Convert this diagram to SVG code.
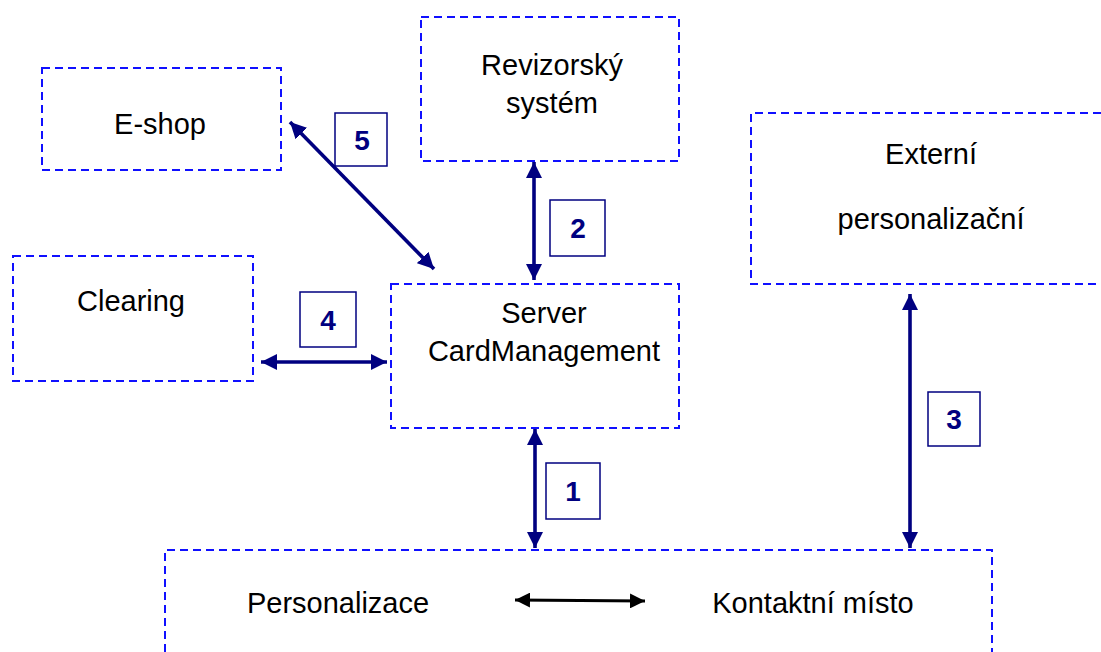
<svg xmlns="http://www.w3.org/2000/svg" width="1101" height="652" viewBox="0 0 1101 652">
  <style>
    .node { fill: none; stroke: #1010ff; stroke-width: 2; stroke-dasharray: 8 5; }
    .label { font-family: "Liberation Sans", Arial, sans-serif; font-size: 29px; fill: #000; text-anchor: middle; }
    .link { stroke: #000080; stroke-width: 3.6; fill: none; marker-start: url(#headStart); marker-end: url(#headEnd); }
    .tag rect { fill: #fff; stroke: #000080; stroke-width: 1.5; }
    .tag text { font-family: "Liberation Sans", Arial, sans-serif; font-size: 28px; font-weight: bold; fill: #000080; text-anchor: middle; }
  </style>
  <defs>
    <marker id="headEnd" viewBox="0 0 10 10" refX="10" refY="5" markerWidth="4.5" markerHeight="4.5" orient="auto" markerUnits="strokeWidth">
      <path d="M0,0 L10,5 L0,10 z" fill="#000080"/>
    </marker>
    <marker id="headStart" viewBox="0 0 10 10" refX="0" refY="5" markerWidth="4.5" markerHeight="4.5" orient="auto" markerUnits="strokeWidth">
      <path d="M10,0 L0,5 L10,10 z" fill="#000080"/>
    </marker>
    <marker id="blkEnd" viewBox="0 0 10 10" refX="10" refY="5" markerWidth="5" markerHeight="5" orient="auto" markerUnits="strokeWidth">
      <path d="M0,0 L10,5 L0,10 z" fill="#000"/>
    </marker>
    <marker id="blkStart" viewBox="0 0 10 10" refX="0" refY="5" markerWidth="5" markerHeight="5" orient="auto" markerUnits="strokeWidth">
      <path d="M10,0 L0,5 L10,10 z" fill="#000"/>
    </marker>
  </defs>

  <rect width="1101" height="652" fill="#fff"/>

  <g id="eshop">
    <rect class="node" x="42" y="68" width="239" height="102"/>
    <text class="label" x="160" y="134">E-shop</text>
  </g>

  <g id="revizorsky-system">
    <rect class="node" x="421" y="17" width="258" height="144"/>
    <text class="label" x="552" y="75">Revizorský</text>
    <text class="label" x="552" y="113">systém</text>
  </g>

  <g id="externi-personalizacni">
    <path class="node" d="M1101,113 H751 V284 H1101"/>
    <text class="label" x="931" y="164">Externí</text>
    <text class="label" x="931" y="229">personalizační</text>
  </g>

  <g id="clearing">
    <rect class="node" x="13" y="256" width="240" height="125"/>
    <text class="label" x="131" y="311">Clearing</text>
  </g>

  <g id="server-cardmanagement">
    <rect class="node" x="391" y="284" width="288" height="144"/>
    <text class="label" x="544" y="323">Server</text>
    <text class="label" x="544" y="361">CardManagement</text>
  </g>

  <g id="personalizace-kontaktni-misto">
    <path class="node" d="M165,652 V550 H992 V652"/>
    <text class="label" x="338" y="613">Personalizace</text>
    <text class="label" x="813" y="613">Kontaktní místo</text>
    <line x1="515" y1="600" x2="645" y2="601" stroke="#000" stroke-width="3" marker-start="url(#blkStart)" marker-end="url(#blkEnd)"/>
  </g>

  <g id="connectors">
    <line class="link" x1="290" y1="122" x2="434" y2="269"/>
    <line class="link" x1="534" y1="162" x2="534" y2="280"/>
    <line class="link" x1="261" y1="362" x2="387" y2="362"/>
    <line class="link" x1="535" y1="429" x2="535" y2="548"/>
    <line class="link" x1="910" y1="294" x2="910" y2="548"/>
  </g>

  <g id="tags">
    <g class="tag"><rect x="335" y="113" width="52" height="53"/><text x="362" y="150">5</text></g>
    <g class="tag"><rect x="550" y="200" width="55" height="56"/><text x="578" y="238">2</text></g>
    <g class="tag"><rect x="300" y="292" width="56" height="55"/><text x="328" y="330">4</text></g>
    <g class="tag"><rect x="546" y="463" width="54" height="56"/><text x="573" y="501">1</text></g>
    <g class="tag"><rect x="928" y="392" width="52" height="54"/><text x="954" y="429">3</text></g>
  </g>
</svg>
